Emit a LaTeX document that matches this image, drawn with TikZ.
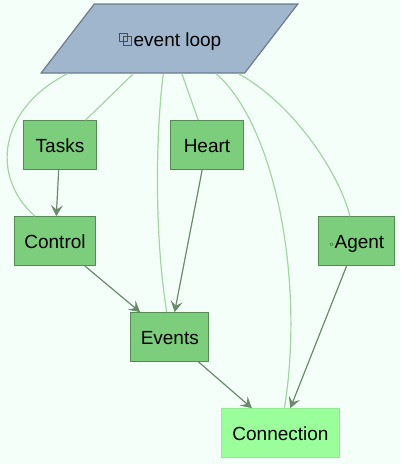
\documentclass[tikz,border=0pt]{standalone}
\usepackage{fontspec}
\setmainfont{Liberation Sans}
\newfontfamily\symfont{DejaVu Sans}
\usepackage{xcolor}
\usetikzlibrary{arrows.meta,shapes.geometric}
\definecolor{mintbg}{HTML}{F5FFFA}
\definecolor{slatefill}{HTML}{9FB6CD}
\definecolor{slateline}{HTML}{6C7B8B}
\definecolor{modfill}{HTML}{7CCD7C}
\definecolor{modline}{HTML}{548B54}
\definecolor{connfill}{HTML}{9AFF9A}
\definecolor{connline}{HTML}{90EE90}
\definecolor{lightedge}{HTML}{A3D5A3}
\definecolor{darkedge}{HTML}{698B69}

\begin{document}
\begin{tikzpicture}[x=1pt,y=-1pt]
\tikzstyle{loopbox} = [trapezium, trapezium left angle=29, trapezium right angle=151,
trapezium stretches=true, draw=slateline, fill=slatefill, line width=1.2pt, inner sep=0pt,
minimum width=257pt, minimum height=69pt, text height=18pt, text depth=2.3pt,
font=\fontsize{19}{22}\selectfont]
\tikzstyle{block} = [rectangle, draw=modline, fill=modfill, line width=1.2pt, inner sep=0pt,
minimum height=48.5pt, text height=18pt, text depth=2.3pt, font=\fontsize{19}{22}\selectfont]
\tikzstyle{block_end} = [block, draw=connline, fill=connfill]
\tikzstyle{line} = [draw=darkedge, line width=1.2pt, -{Stealth[length=11pt,width=12pt,inset=4.5pt]}];
\tikzstyle{soft} = [draw=lightedge, line width=1.2pt];
\tikzstyle{icon} = [draw=black!70, line width=.7pt];

\fill[mintbg] (0,0) rectangle (400,464);
\useasboundingbox (0,0) rectangle (400,464);

% nodes
\node [loopbox] (loop) at (169.5,38.5) {\hspace*{16pt}event loop};
\node [block, minimum width=72.5pt] (tasks) at (60,145) {Tasks};
\node [block, minimum width=72.5pt] (heart) at (207,145) {Heart};
\node [block, minimum width=81pt] (control) at (55,241) {Control};
\node [block, minimum width=76pt] (agent) at (356.5,241) {{\symfont\fontsize{10}{12}\selectfont ◦}Agent};
\node [block, minimum width=78pt] (events) at (169.8,337) {Events};
\node [block_end, minimum width=118pt] (connection) at (280.5,433) {Connection};

% the icon in front of the loop label
\path [icon] ([shift={(-50.2,-5.5)}]loop.center) rectangle ++(8,8.5);
\path [icon] ([shift={(-46.2,-1.8)}]loop.center) rectangle ++(8.4,9);

% light edges
\path [soft] (loop) -- (tasks);
\path [soft] (loop) -- (heart);
\path [soft] (loop.199) .. controls (0,108) and (-11,175) .. (control.129.5);
\path [soft] (loop.260) .. controls (155,140) and (155,240) .. (events.97.7);
\path [soft] (loop.323.5) .. controls (275,125) and (305,280) .. (connection.81.7);
\path [soft] (loop.333) .. controls (295,105) and (340,175) .. (agent.105.4);

% dark edges
\path [line] (tasks) -- (control);
\path [line] (control) -- (events);
\path [line] (heart) -- (events);
\path [line] (events) -- (connection);
\path [line] (agent) -- (connection);
\end{tikzpicture}
\end{document}
